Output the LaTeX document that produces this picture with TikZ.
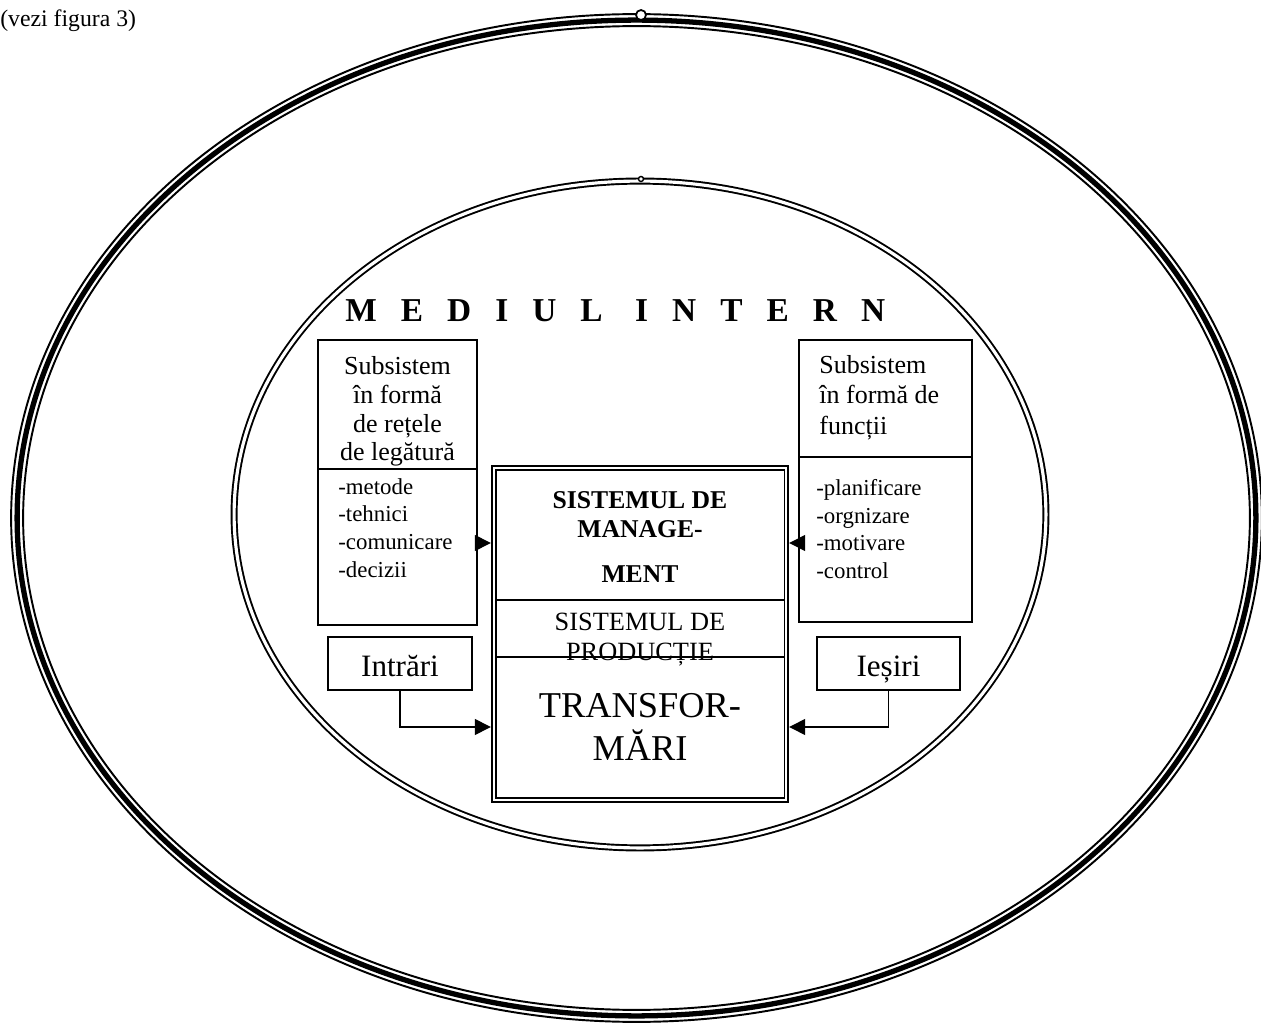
\documentclass[tikz,border=0pt]{standalone}
\usepackage{fontspec}
\setmainfont{Liberation Serif}
\newfontfamily\spacedfont[LetterSpace=72]{Liberation Serif}
\usetikzlibrary{arrows.meta}
\tikzset{
  box/.style={draw,line width=1pt,inner sep=0pt},
  iobox/.style={box,minimum height=1.06cm,font=\fontsize{17.7}{20}\selectfont,text height=15.3pt,text depth=0pt},
  head/.style={inner sep=0pt,font=\fontsize{14.8}{16.4}\selectfont},
  items/.style={inner sep=0pt,align=left,font=\fontsize{13}{15.8}\selectfont},
}

\begin{document}
\begin{tikzpicture}[x=0.02cm,y=-0.02cm,>={Triangle[length=9pt,width=9pt]}]
  \useasboundingbox (0,0) rectangle (1261,1023);
  % outer environment, triple line
  \draw[line width=3pt] (636.5,518) ellipse [x radius=12.39cm,y radius=9.96cm];
  \draw[line width=1.1pt] (636.5,518) ellipse [x radius=12.51cm,y radius=10.08cm];
  \draw[line width=1.1pt] (636.5,518) ellipse [x radius=12.27cm,y radius=9.84cm];
  \draw[line width=1pt,fill=white] (641,15) circle [radius=0.1cm];
  % internal environment, double line
  \draw[line width=1.1pt,double,double distance=1.8pt] (640,514.5) ellipse [x radius=8.12cm,y radius=6.67cm];
  \draw[line width=0.8pt,fill=white] (641,179) circle [radius=0.05cm];

  \node[anchor=base west,inner sep=0pt,font=\fontsize{13.5}{16}\selectfont] (fig) at (0,27) {(vezi figura 3)};
  \node[anchor=base west,inner sep=0pt,font=\spacedfont\bfseries\fontsize{19}{22}\selectfont] (intern) at (345,322) {MEDIUL INTERN};

  % subsystems
  \node[box,minimum width=3.18cm,minimum height=5.7cm] (retele) at (397.5,482.5) {};
  \draw[line width=1pt] (retele.west |- 0,469) -- (retele.east |- 0,469);
  \node[head,anchor=north,align=center] (retelet) at (397.5,356) {Subsistem\\în formă\\de rețele\\de legătură};
  \node[items,anchor=north west] (retelel) at (338,478) {-metode\\-tehnici\\-comunicare\\-decizii};

  \node[box,minimum width=3.46cm,minimum height=5.64cm] (functii) at (885.5,481) {};
  \draw[line width=1pt] (functii.west |- 0,457) -- (functii.east |- 0,457);
  \node[head,anchor=north west,align=left,font=\fontsize{14.8}{17.3}\selectfont] (functiit) at (819,355) {Subsistem\\în formă de\\funcții};
  \node[items,anchor=north west] (functiil) at (816,479) {-planificare\\-orgnizare\\-motivare\\-control};

  % central system
  \node[box,line width=1.4pt,minimum width=5.92cm,minimum height=6.72cm] (sistem) at (640,634) {};
  \draw[line width=0.8pt] ([shift={(0.1cm,0.1cm)}]sistem.south west) rectangle ([shift={(-0.1cm,-0.1cm)}]sistem.north east);
  \draw[line width=0.8pt] ([xshift=0.1cm]sistem.west |- 0,600) -- ([xshift=-0.1cm]sistem.east |- 0,600);
  \draw[line width=0.8pt] ([xshift=0.1cm]sistem.west |- 0,657) -- ([xshift=-0.1cm]sistem.east |- 0,657);
  \node[anchor=north,inner sep=0pt,align=center,font=\bfseries\fontsize{14.6}{16.4}\selectfont] (mgmt) at (640,491) {SISTEMUL DE\\MANAGE-\\[9.6pt]MENT};
  \node[anchor=north,inner sep=0pt,align=center,font=\fontsize{15}{17}\selectfont] (prod) at (640,612.5) {SISTEMUL DE\\PRODUCȚIE};
  \node[anchor=north,inner sep=0pt,align=center,font=\fontsize{20.7}{24.4}\selectfont] (transf) at (640,693) {TRANSFOR-\\MĂRI};

  \node[iobox,minimum width=2.88cm] (intrari) at (400,663.5) {Intrări};
  \node[iobox,minimum width=2.86cm] (iesiri) at (888.5,663.5) {Ieșiri};

  \coordinate (upper) at (640,543);
  \coordinate (lower) at (640,727);
  \draw[->,line width=0.8pt] (retele.east |- upper) -- (sistem.west |- upper);
  \draw[->,line width=0.8pt] (functii.west |- upper) -- (sistem.east |- upper);
  \draw[->,line width=0.8pt] (intrari.south) |- (sistem.west |- lower);
  \draw[->,line width=0.8pt] (iesiri.south) |- (sistem.east |- lower);
\end{tikzpicture}
\end{document}
